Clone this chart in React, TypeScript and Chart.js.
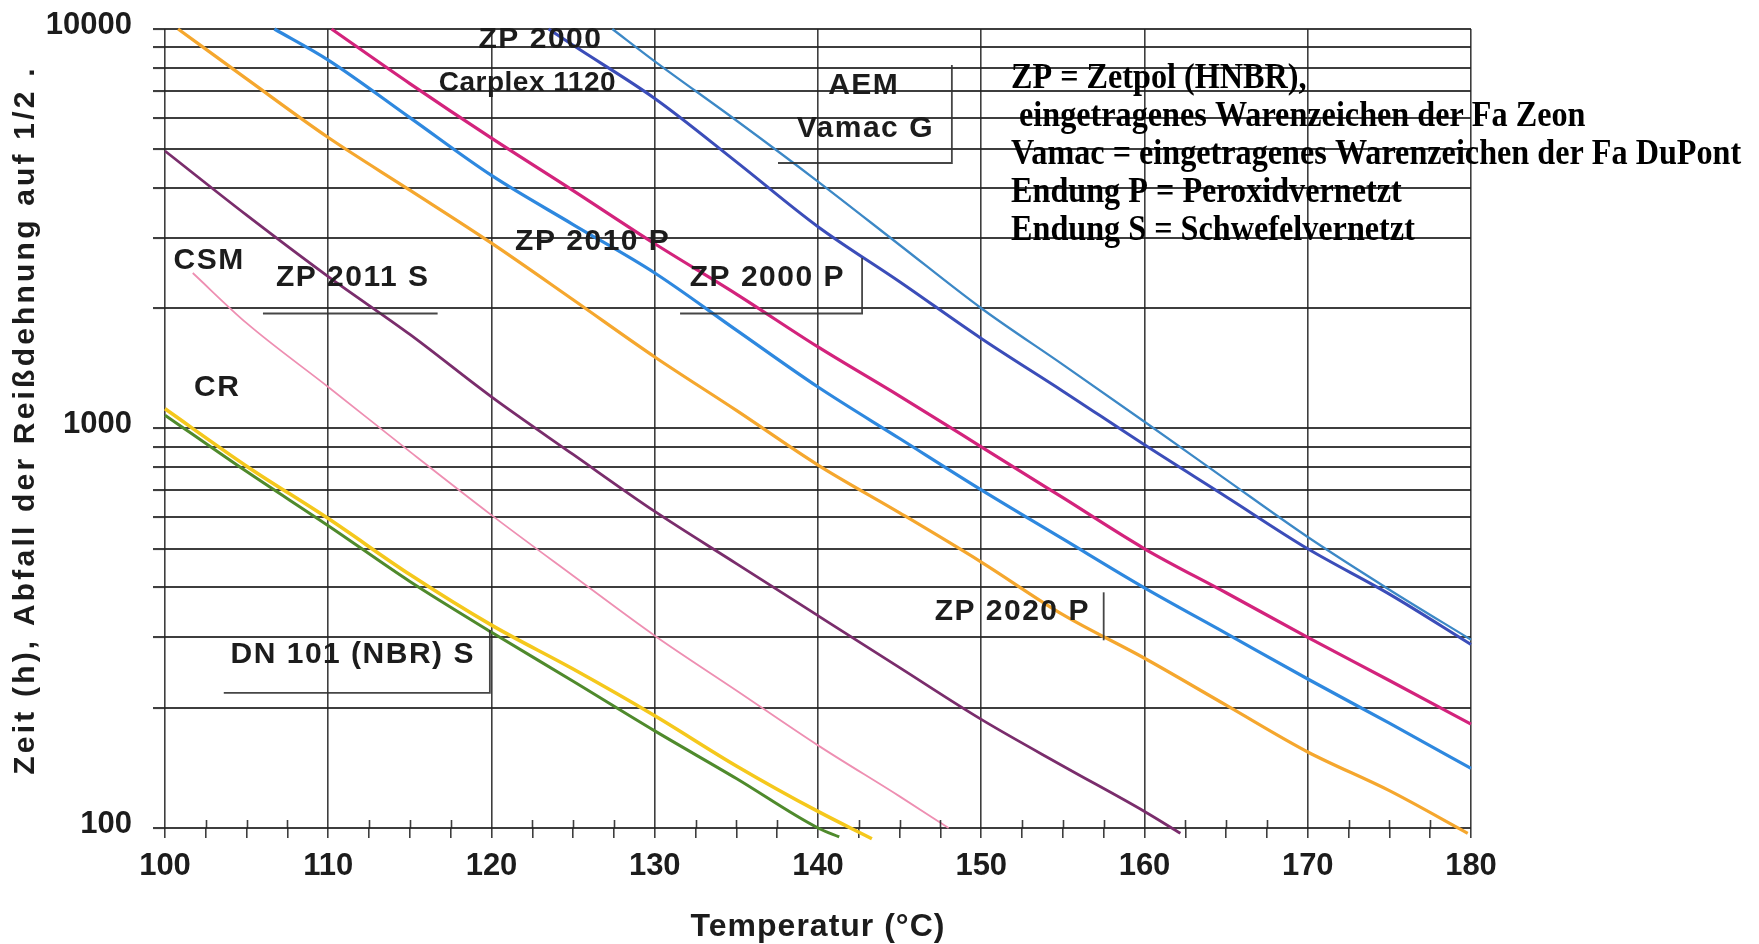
import React, { useEffect, useRef } from 'react';
import { Chart, registerables } from 'chart.js';

Chart.register(...registerables);

// ---- axis ticks / labels ----
const xTickLabels = ['100', '110', '120', '130', '140', '150', '160', '170', '180'];
const yTickLabels = ['100', '1000', '10000'];
const yGridValues = [100, 200, 300, 400, 500, 600, 700, 800, 900, 1000, 2000, 3000, 4000, 5000, 6000, 7000, 8000, 9000, 10000];

// ---- series (temperature °C, time h) ----
const dn101Temps = [100, 105, 110, 115, 120, 125, 130, 135, 140, 141.3];
const dn101Values = [1080, 780, 571, 414, 309, 233, 175, 133, 100, 95];

const crTemps = [100, 105, 110, 115, 120, 125, 130, 135, 140, 143.3];
const crValues = [1120, 805, 595, 431, 322, 250, 191, 143, 110, 94];

const csmTemps = [101.7, 105, 110, 115, 120, 125, 130, 135, 140, 145, 148];
const csmValues = [2450, 1835, 1270, 875, 607, 428, 303, 221, 161, 120, 100];

const zp2011sTemps = [100, 105, 110, 115, 120, 125, 130, 135, 140, 145, 150, 155, 160, 162.2];
const zp2011sValues = [4950, 3420, 2400, 1720, 1200, 861, 620, 459, 340, 252, 187, 143, 110, 97];

const zp2020pTemps = [100.8, 105, 110, 115, 120, 125, 130, 135, 140, 145, 150, 155, 160, 165, 170, 175, 179.8];
const zp2020pValues = [10000, 7500, 5350, 3950, 2910, 2100, 1510, 1110, 810, 615, 463, 342, 266, 203, 155, 124, 97];

const zp2010pTemps = [106.7, 110, 115, 120, 125, 130, 135, 140, 145, 150, 155, 160, 165, 170, 175, 180];
const zp2010pValues = [10000, 8360, 6000, 4300, 3240, 2450, 1763, 1270, 944, 702, 529, 399, 307, 236, 183, 141];

const zp2000pTemps = [110.2, 115, 120, 125, 130, 135, 140, 145, 150, 155, 160, 165, 170, 175, 180];
const zp2000pValues = [10000, 7300, 5330, 3940, 2900, 2170, 1600, 1205, 900, 671, 500, 388, 300, 234, 182];

const zp2000CarplexTemps = [123.5, 125, 130, 135, 140, 145, 150, 155, 160, 165, 170, 175, 180];
const zp2000CarplexValues = [10000, 9100, 6700, 4650, 3200, 2330, 1680, 1240, 910, 675, 500, 385, 288];

const aemTemps = [127.4, 130, 135, 140, 145, 150, 155, 160, 165, 170, 175, 180];
const aemValues = [10000, 8300, 5900, 4150, 2880, 2000, 1445, 1040, 745, 535, 395, 296];

// ---- texts ----
const xTitle = 'Temperatur (°C)';
const yTitle = 'Zeit (h), Abfall der Reißdehnung auf 1/2 .';
const legendLines = [
  'ZP = Zetpol (HNBR),',
  ' eingetragenes Warenzeichen der Fa Zeon',
  'Vamac = eingetragenes Warenzeichen der Fa DuPont',
  'Endung P = Peroxidvernetzt',
  'Endung S = Schwefelvernetzt',
];

// curve labels, anchored in data coordinates (temperature, hours)
const curveLabels = [
  { text: 'ZP 2000', t: 123.0, v: 9550, size: 30 },
  { text: 'Carplex 1120', t: 122.2, v: 7420, size: 28 },
  { text: 'AEM', t: 142.8, v: 7330, size: 30 },
  { text: 'Vamac G', t: 142.9, v: 5710, size: 30 },
  { text: 'ZP 2010 P', t: 126.2, v: 2980, size: 30 },
  { text: 'ZP 2000 P', t: 136.9, v: 2420, size: 30 },
  { text: 'ZP 2011 S', t: 111.5, v: 2420, size: 30 },
  { text: 'CSM', t: 102.7, v: 2670, size: 30 },
  { text: 'CR', t: 103.2, v: 1285, size: 30 },
  { text: 'DN 101 (NBR) S', t: 111.5, v: 276, size: 30 },
  { text: 'ZP 2020 P', t: 151.9, v: 353, size: 30 },
];

// bracket lines next to labels: polylines in data coordinates
const labelBrackets = [
  [[137.55, 4620], [148.2, 4620], [148.2, 8130]],
  [[131.55, 1940], [142.7, 1940], [142.7, 2670]],
  [[106.0, 1940], [116.7, 1940]],
  [[103.6, 218], [119.9, 218], [119.9, 313]],
  [[157.5, 295], [157.5, 389]],
];

const mk = (label: string, temps: number[], values: number[], color: string, width: number) => ({
  label,
  data: temps.map((t, i) => ({ x: t, y: values[i] })),
  borderColor: color,
  backgroundColor: color,
  borderWidth: width,
  pointRadius: 0,
  fill: false,
  cubicInterpolationMode: 'monotone' as const,
  clip: false as const,
});

const GRID = 'rgba(35,35,35,0.88)';
const SANS = '"Liberation Sans", Arial, Helvetica, sans-serif';

const overlayPlugin = {
  id: 'overlay',
  afterDraw(chart: any) {
    const { ctx, scales } = chart;
    const x = scales.x;
    const y = scales.y;
    const bottom = chart.chartArea.bottom;
    ctx.save();

    // minor x ticks crossing above the axis line
    ctx.strokeStyle = GRID;
    ctx.lineWidth = 1.6;
    for (const tk of x.ticks) {
      if (tk.value % 10 === 0) continue;
      const px = Math.round(x.getPixelForValue(tk.value)) + 0.5;
      ctx.beginPath();
      ctx.moveTo(px, bottom - 8);
      ctx.lineTo(px, bottom);
      ctx.stroke();
    }

    // curve labels
    ctx.fillStyle = '#1c1c1c';
    ctx.textAlign = 'center';
    ctx.textBaseline = 'middle';
    for (const l of curveLabels) {
      ctx.font = 'bold ' + l.size + 'px ' + SANS;
      (ctx as any).letterSpacing = l.size >= 30 ? '1.5px' : '0.5px';
      ctx.fillText(l.text, x.getPixelForValue(l.t), y.getPixelForValue(l.v) + 3);
    }
    (ctx as any).letterSpacing = '0px';

    // brackets
    ctx.strokeStyle = 'rgba(50,50,50,0.9)';
    ctx.lineWidth = 1.8;
    for (const br of labelBrackets) {
      ctx.beginPath();
      br.forEach((p, i) => {
        const px = x.getPixelForValue(p[0]);
        const py = y.getPixelForValue(p[1]);
        if (i === 0) ctx.moveTo(px, py);
        else ctx.lineTo(px, py);
      });
      ctx.stroke();
    }

    // axis titles
    ctx.fillStyle = '#1c1c1c';
    ctx.font = 'bold 32px ' + SANS;
    (ctx as any).letterSpacing = '1px';
    ctx.textAlign = 'center';
    ctx.textBaseline = 'middle';
    ctx.fillText(xTitle, (chart.chartArea.left + chart.chartArea.right) / 2, 927);

    ctx.save();
    ctx.translate(26, 420);
    ctx.rotate(-Math.PI / 2);
    ctx.font = 'bold 30px ' + SANS;
    (ctx as any).letterSpacing = '3.2px';
    ctx.fillText(yTitle, 0, 0);
    ctx.restore();

    // explanatory note
    (ctx as any).letterSpacing = '0px';
    ctx.font = 'bold 35px "Liberation Serif", "Times New Roman", serif';
    ctx.textAlign = 'left';
    ctx.fillStyle = '#000';
    legendLines.forEach((line, i) => {
      ctx.save();
      ctx.translate(1011, 79 + i * 38.1);
      ctx.scale(0.92, 1);
      ctx.fillText(line, 0, 0);
      ctx.restore();
    });

    ctx.restore();
  },
};

export default function App() {
  const ref = useRef<HTMLCanvasElement | null>(null);

  useEffect(() => {
    document.body.style.margin = '0';
    document.body.style.overflow = 'hidden';
    const canvas = ref.current;
    if (!canvas) return;
    const chart = new Chart(canvas, {
      type: 'line',
      data: {
        datasets: [
          mk('DN 101 (NBR) S', dn101Temps, dn101Values, '#4f8a2c', 3),
          mk('CR', crTemps, crValues, '#f5c81c', 3.6),
          mk('CSM', csmTemps, csmValues, '#ee8fb2', 1.8),
          mk('ZP 2011 S', zp2011sTemps, zp2011sValues, '#7a2d6c', 2.8),
          mk('ZP 2020 P', zp2020pTemps, zp2020pValues, '#f5a72e', 3.2),
          mk('ZP 2010 P', zp2010pTemps, zp2010pValues, '#2e88df', 3.2),
          mk('ZP 2000 P', zp2000pTemps, zp2000pValues, '#d3237c', 3.2),
          mk('ZP 2000 / Carplex 1120', zp2000CarplexTemps, zp2000CarplexValues, '#3b4db9', 3),
          mk('AEM Vamac G', aemTemps, aemValues, '#3c88c6', 2.3),
        ],
      },
      options: {
        animation: false,
        responsive: false,
        maintainAspectRatio: false,
        events: [],
        layout: { padding: { top: 29, right: 288, bottom: 0, left: 0 } },
        plugins: {
          legend: { display: false },
          tooltip: { enabled: false },
          title: { display: false },
        },
        scales: {
          x: {
            type: 'linear',
            min: 100,
            max: 180,
            afterFit: (s: any) => {
              s.height = 116;
              s.paddingLeft = 0;
              s.paddingRight = 0;
              s.paddingTop = 0;
              s.paddingBottom = 0;
            },
            border: { display: false },
            grid: {
              color: (c: any) => (c.tick && c.tick.value % 10 === 0 ? GRID : 'rgba(0,0,0,0)'),
              lineWidth: 1.6,
              tickColor: GRID,
              tickWidth: 1.6,
              tickLength: 10,
            },
            ticks: {
              stepSize: 2.5,
              autoSkip: false,
              maxRotation: 0,
              minRotation: 0,
              padding: 10,
              color: '#1c1c1c',
              font: { family: SANS, size: 31, weight: 'bold' },
              callback: (v: any) => (xTickLabels.includes(String(v)) ? String(v) : ''),
            },
          },
          y: {
            type: 'logarithmic',
            min: 100,
            max: 10000,
            afterFit: (s: any) => {
              s.width = 165;
              s.paddingTop = 0;
              s.paddingBottom = 0;
              s.paddingLeft = 0;
              s.paddingRight = 0;
            },
            afterBuildTicks: (s: any) => { s.ticks = yGridValues.map((v) => ({ value: v })); },
            border: { display: false },
            grid: {
              color: GRID,
              lineWidth: 2.1,
              tickColor: GRID,
              tickLength: 12,
            },
            ticks: {
              autoSkip: false,
              padding: 21,
              labelOffset: -4,
              color: '#1c1c1c',
              font: { family: SANS, size: 31, weight: 'bold' },
              callback: (v: any) => (yTickLabels.includes(String(v)) ? String(v) : ''),
            },
          },
        },
      } as any,
      plugins: [overlayPlugin],
    });
    return () => chart.destroy();
  }, []);

  return (
    <div style={{ width: 1759, height: 944, background: '#fff' }}>
      <canvas ref={ref} width={1759} height={944} style={{ display: 'block' }} />
    </div>
  );
}
